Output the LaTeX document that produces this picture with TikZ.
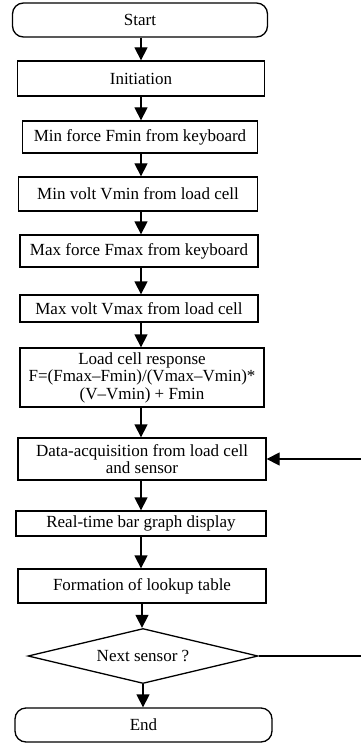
\documentclass[tikz,border=0pt]{standalone}
\usepackage{fontspec}
\setmainfont{Liberation Serif}
\usetikzlibrary{shapes.geometric,arrows.meta}
\begin{document}
\begin{tikzpicture}[x=1pt,y=-1pt,
  box/.style={draw, line width=1.3pt, inner sep=1pt, align=center, font=\fontsize{17}{17.5}\selectfont},
  term/.style={box, rounded corners=11pt},
  dec/.style={draw, diamond, line width=1.3pt, aspect=4.2, inner sep=0pt, font=\fontsize{17}{17.5}\selectfont},
  arr/.style={line width=1.3pt, -{Triangle[width=13pt,length=13pt]}}]
\useasboundingbox (0,0) rectangle (360,743);
\node[term, minimum width=255pt, minimum height=34pt] (start) at (140,20) {Start};
\node[box, minimum width=247pt, minimum height=35pt] (init) at (141,78.5) {Initiation};
\node[box, minimum width=235pt, minimum height=32pt] (fmin) at (140,137) {Min force Fmin from keyboard};
\node[box, minimum width=239pt, minimum height=34pt] (vmin) at (138,194) {Min volt Vmin from load cell};
\node[box, minimum width=238pt, minimum height=32pt] (fmax) at (139,251) {Max force Fmax from keyboard};
\node[box, minimum width=238pt, minimum height=27pt] (vmax) at (139,308.5) {Max volt Vmax from load cell};
\node[box, minimum width=244pt, minimum height=59pt] (resp) at (142,377.5) {Load cell response\\F=(Fmax–Fmin)/(Vmax–Vmin)*\\(V–Vmin) + Fmin};
\node[box, minimum width=248pt, minimum height=42pt] (daq) at (142,459) {Data-acquisition from load cell\\and sensor};
\node[box, minimum width=250pt, minimum height=25pt] (bar) at (141,523.5) {Real-time bar graph display};
\node[box, minimum width=248pt, minimum height=34pt] (lut) at (142,586) {Formation of lookup table};
\node[dec, minimum width=230pt, minimum height=55pt] (next) at (143,656) {Next sensor ?};
\node[term, minimum width=257pt, minimum height=34pt] (end) at (143.5,725) {End};
\draw[arr] (start.south -| init) -- (init);
\draw[arr] (init) -- (init |- fmin.north);
\draw[arr] (init |- fmin.south) -- (init |- vmin.north);
\draw[arr] (init |- vmin.south) -- (init |- fmax.north);
\draw[arr] (init |- fmax.south) -- (init |- vmax.north);
\draw[arr] (init |- vmax.south) -- (init |- resp.north);
\draw[arr] (init |- resp.south) -- (init |- daq.north);
\draw[arr] (init |- daq.south) -- (init |- bar.north);
\draw[arr] (init |- bar.south) -- (init |- lut.north);
\draw[arr] (lut) -- (lut |- next.north);
\draw[arr] (next) -- (next |- end.north);
\coordinate (r1) at (362,656);
\coordinate (r2) at (362,459);
\draw[arr] (next.east) -- (r1) -- (r2) -- (daq.east);
\end{tikzpicture}
\end{document}
